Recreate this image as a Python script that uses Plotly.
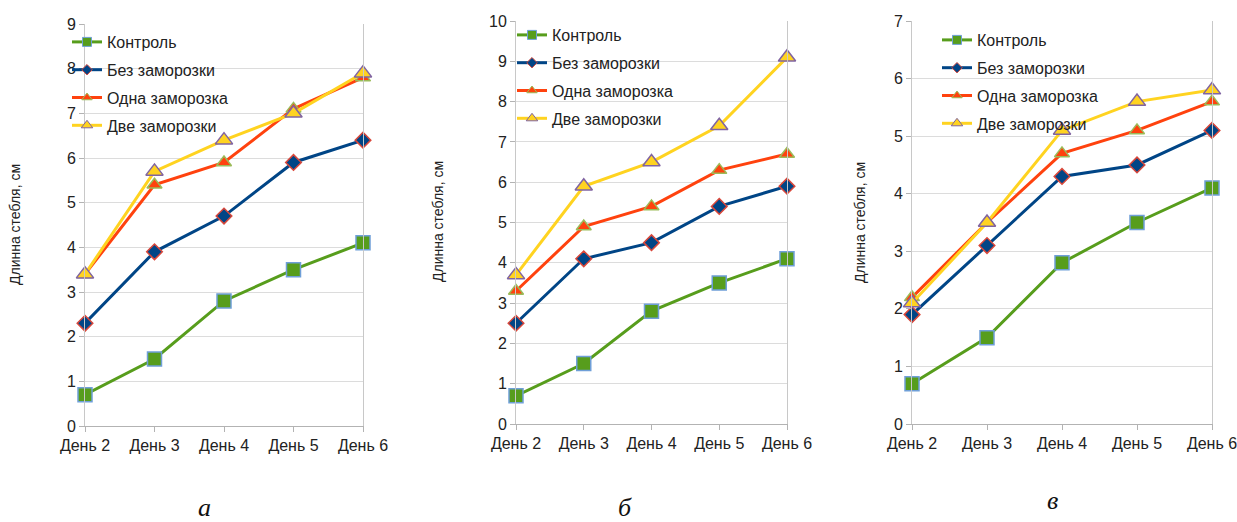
import plotly.graph_objects as go

W, H = 1237, 522

days = ["День 2", "День 3", "День 4", "День 5", "День 6"]
series_names = ["Контроль", "Без заморозки", "Одна заморозка", "Две заморозки"]

# panel а
a_control = [0.7, 1.5, 2.8, 3.5, 4.1]
a_no_frost = [2.3, 3.9, 4.7, 5.9, 6.4]
a_one_frost = [3.4, 5.4, 5.9, 7.1, 7.8]
a_two_frost = [3.4, 5.7, 6.4, 7.0, 7.9]
# panel б
b_control = [0.7, 1.5, 2.8, 3.5, 4.1]
b_no_frost = [2.5, 4.1, 4.5, 5.4, 5.9]
b_one_frost = [3.3, 4.9, 5.4, 6.3, 6.7]
b_two_frost = [3.7, 5.9, 6.5, 7.4, 9.1]
# panel в
c_control = [0.7, 1.5, 2.8, 3.5, 4.1]
c_no_frost = [1.9, 3.1, 4.3, 4.5, 5.1]
c_one_frost = [2.2, 3.5, 4.7, 5.1, 5.6]
c_two_frost = [2.1, 3.5, 5.1, 5.6, 5.8]

y_max = [9, 10, 7]
panel_letters = ["а", "б", "в"]
y_title = "Длинна стебля, см"

panels = [
    [a_control, a_no_frost, a_one_frost, a_two_frost],
    [b_control, b_no_frost, b_one_frost, b_two_frost],
    [c_control, c_no_frost, c_one_frost, c_two_frost],
]

styles = [
    dict(line="#579d1c", symbol="square", fill="#579d1c", border="#6f9fd8", size=14, lsize=9),
    dict(line="#004586", symbol="diamond", fill="#004586", border="#d9473a", size=12, lsize=8),
    dict(line="#ff420e", symbol="triangle-up", fill="#ff420e", border="#9bbb59", size=13, lsize=9),
    dict(line="#ffd320", symbol="triangle-up", fill="#ffd320", border="#8064a2", size=15, lsize=10),
]

# pixel geometry of each plot area: (left, right, top, bottom)
boxes = [(85, 363, 24, 426), (516, 787, 21, 424), (912, 1212, 21, 424)]
legend_pos = [(67, 25), (512, 18), (937, 23)]
ytitle_pos = [(15, 225), (438, 222), (860, 223)]
letter_pos = [(204, 507), (625, 507), (1052, 500)]

fig = go.Figure()
font_family = "Liberation Sans, Arial, sans-serif"

for p, (data, box) in enumerate(zip(panels, boxes)):
    ax = "" if p == 0 else str(p + 1)
    leg = "legend" if p == 0 else f"legend{p + 1}"
    for i, (name, vals) in enumerate(zip(series_names, data)):
        st = styles[i]
        fig.add_trace(go.Scatter(
            x=days, y=vals, name=name, mode="lines+markers",
            xaxis="x" + ax, yaxis="y" + ax, showlegend=False,
            cliponaxis=False,
            line=dict(color=st["line"], width=3),
            marker=dict(symbol=st["symbol"], size=st["size"], color=st["fill"],
                        line=dict(color=st["border"], width=1.5)),
        ))
    # legend entries (same style, smaller symbols as in the reference)
    for i, name in enumerate(series_names):
        st = styles[i]
        fig.add_trace(go.Scatter(
            x=[None], y=[None], name=name, mode="lines+markers",
            xaxis="x" + ax, yaxis="y" + ax, legend=leg, showlegend=True,
            legendgroup=f"g{p}_{i}",
            line=dict(color=st["line"], width=3),
            marker=dict(symbol=st["symbol"], size=st["lsize"], color=st["fill"],
                        line=dict(color=st["border"], width=1)),
        ))
    l, r, t, b = box
    xdom = [l / W, r / W]
    ydom = [(H - b) / H, (H - t) / H]
    fig.layout["xaxis" + ax] = dict(
        domain=xdom, anchor="y" + ax, type="category", range=[0, 4],
        showgrid=False, showline=True, linecolor="#b3b3b3", linewidth=1,
        ticks="outside", ticklen=5, tickcolor="#b3b3b3", automargin=False,
        tickfont=dict(family=font_family, size=16, color="#222"),
        fixedrange=True,
    )
    fig.layout["yaxis" + ax] = dict(
        domain=ydom, anchor="x" + ax, range=[0, y_max[p]], dtick=1,
        showgrid=True, gridcolor="#dcdcdc", gridwidth=1,
        showline=True, mirror=True, linecolor="#c8c8c8", linewidth=1,
        ticks="outside", ticklen=5, tickcolor="#b3b3b3", automargin=False,
        tickfont=dict(family=font_family, size=16, color="#222"),
        zeroline=False, fixedrange=True,
    )
    lx, ly = legend_pos[p]
    fig.layout[leg] = dict(
        x=lx / W, y=(H - ly) / H, xanchor="left", yanchor="top",
        bgcolor="rgba(0,0,0,0)", borderwidth=0,
        traceorder="grouped", tracegroupgap=4,
        font=dict(family=font_family, size=16, color="#222"),
        itemwidth=30,
    )
    tx, ty = ytitle_pos[p]
    fig.add_annotation(
        x=tx / W, y=(H - ty) / H, xref="paper", yref="paper",
        text=y_title, textangle=-90, showarrow=False,
        font=dict(family=font_family, size=14, color="#222"),
        xanchor="center", yanchor="middle",
    )
    lx2, ly2 = letter_pos[p]
    fig.add_annotation(
        x=lx2 / W, y=(H - ly2) / H, xref="paper", yref="paper",
        text=f"<i>{panel_letters[p]}</i>", showarrow=False,
        font=dict(family="Liberation Serif, Times New Roman, serif", size=26, color="#111"),
        xanchor="center", yanchor="middle",
    )

fig.update_layout(
    template="none",
    width=W, height=H, margin=dict(l=0, r=0, t=0, b=0, autoexpand=False),
    paper_bgcolor="white", plot_bgcolor="white",
    showlegend=True,
)

fig.write_html(
    "out.html",
    config={"displayModeBar": False},
    post_script="document.body.style.margin='0';document.body.style.overflow='hidden';",
)
